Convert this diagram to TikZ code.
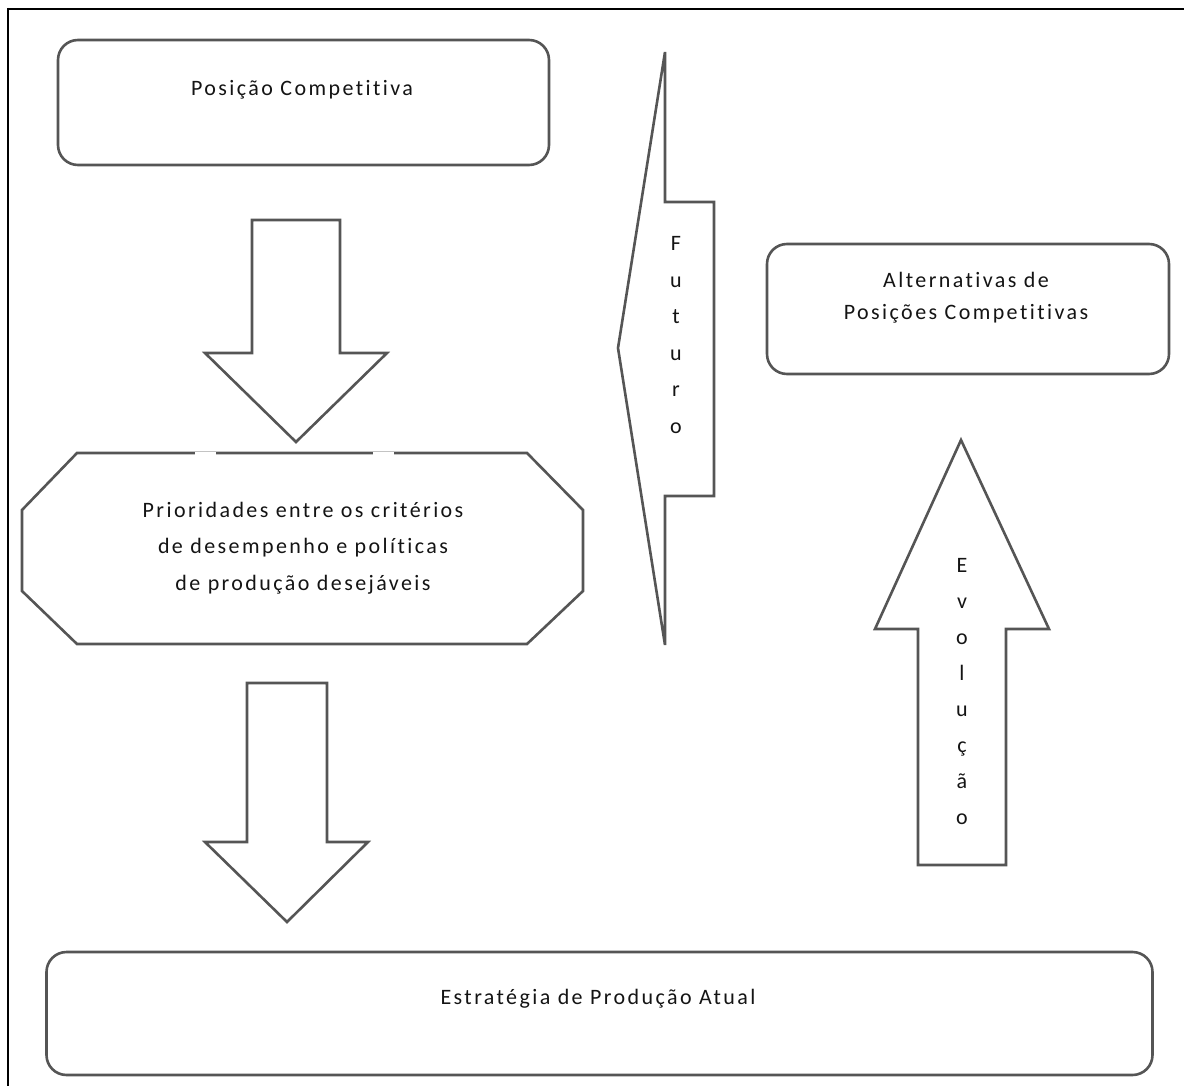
\documentclass[tikz,border=0pt]{standalone}
\usepackage{fontspec}
\setmainfont[LetterSpace=11,Ligatures=NoCommon]{Carlito}
\definecolor{edge}{RGB}{85,85,85}
\definecolor{ink}{RGB}{20,20,20}
\begin{document}
\begin{tikzpicture}[x=1pt,y=-1pt,
  shape line/.style={draw=edge,line width=2.6pt,fill=white,line join=miter},
  rbox/.style={draw=edge,line width=2.6pt,fill=white,rounded corners=20pt,rectangle,inner sep=0pt},
  lbl/.style={font=\fontsize{22}{22}\selectfont,text=ink,inner sep=0pt},
  vletter/.style={font=\fontsize{22}{22}\selectfont,text=ink,inner sep=0pt,anchor=base},
  frame line/.style={draw=black,line width=2.2pt}]
\useasboundingbox (0,0) rectangle (1184,1086);
% page frame (top and left only)
\draw[frame line] (7,9) -- (1184,9);
\draw[frame line] (8,8) -- (8,1086);

% boxes
\node[rbox,minimum width=491pt,minimum height=125pt] (pos) at (303.5,102.5) {};
\node[lbl] (posT) at (302,90) {Posição Competitiva};

\node[rbox,minimum width=402pt,minimum height=130pt] (alt) at (968,309) {};
\node[lbl,align=center,font=\fontsize{22}{32}\selectfont] (altT) at (966,298) {Alternativas de\\Posições Competitivas};

\node[rbox,minimum width=1106pt,minimum height=123pt] (est) at (599.5,1013.5) {};
\node[lbl] (estT) at (598,999) {Estratégia de Produção Atual};

% down arrow 1
\draw[shape line] (252,220) -- (340,220) -- (340,353) -- (387,353) -- (296,442) -- (205,353) -- (252,353) -- cycle;

% octagon
\draw[shape line] (77,453) -- (527,453) -- (583,510) -- (583,591) -- (527,644) -- (77,644) -- (22,591) -- (22,510) -- cycle;
\draw[white,line width=3pt] (195,453) -- (216,453);
\draw[white,line width=3pt] (373,453) -- (394,453);
\node[lbl,align=center,font=\fontsize{22}{36.5}\selectfont] (prioT) at (303,548) {Prioridades entre os critérios\\de desempenho e políticas\\de produção desejáveis};

% down arrow 2
\draw[shape line] (247,683) -- (327,683) -- (327,842) -- (368,842) -- (287,922) -- (205,842) -- (247,842) -- cycle;

% Futuro arrow (left)
\draw[shape line] (665,52) -- (665,202) -- (714,202) -- (714,496) -- (665,496) -- (665,645) -- (618,348) -- cycle;
\foreach \ch [count=\i from 0] in {F,u,t,u,r,o} {
  \node[vletter] (fut\i) at (676,251+36.4*\i) {\ch};
}

% Evolução arrow (up)
\draw[shape line] (961,440) -- (1049,629) -- (1006,629) -- (1006,865) -- (918,865) -- (918,629) -- (875,629) -- cycle;
\foreach \ch [count=\i from 0] in {E,v,o,l,u,ç,ã,o} {
  \node[vletter] (evo\i) at (962,572+36.1*\i) {\ch};
}
\end{tikzpicture}
\end{document}
